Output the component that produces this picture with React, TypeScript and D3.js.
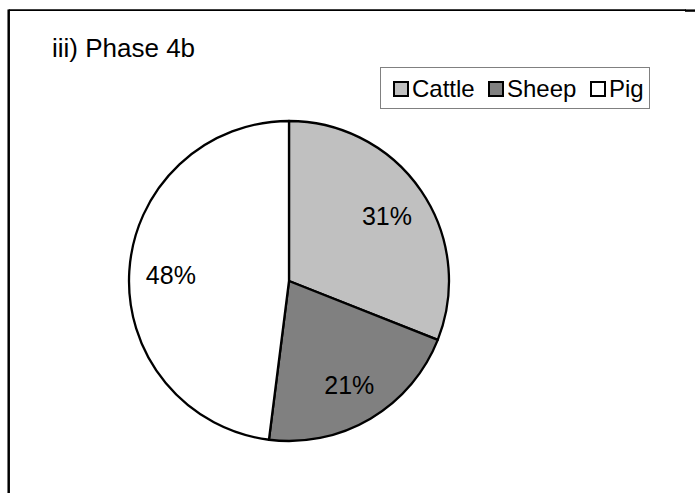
import * as d3 from "d3";
import { useRef, useEffect } from "react";

const categories = ["Cattle", "Sheep", "Pig"];
const shares = [31, 21, 48];
const labels = ["31%", "21%", "48%"];
const fills = ["#c0c0c0", "#808080", "#ffffff"];
const title = "iii) Phase 4b";

export default function App() {
  const ref = useRef<SVGSVGElement | null>(null);
  const width = 695;
  const height = 493;

  useEffect(() => {
    const svg = d3.select(ref.current);
    svg.selectAll("*").remove();
    const font = "Arial, 'Liberation Sans', sans-serif";

    // frame (only top and left edges visible)
    svg.append("line").attr("x1", 8.7).attr("x2", 686).attr("y1", 10.2).attr("y2", 10.2)
      .attr("stroke", "#000").attr("stroke-width", 1.7);
    svg.append("line").attr("x1", 685).attr("x2", 695).attr("y1", 10.6).attr("y2", 10.6)
      .attr("stroke", "#000").attr("stroke-width", 2.4);
    svg.append("line").attr("x1", 8.7).attr("x2", 8.7).attr("y1", 9.4).attr("y2", height)
      .attr("stroke", "#000").attr("stroke-width", 2.5);

    svg.append("text").attr("x", 52).attr("y", 56.5)
      .attr("font-family", font).attr("font-size", 26).attr("fill", "#000")
      .text(title);

    // pie
    const cx = 289, cy = 281, r = 160;
    const pie = d3.pie<number>().sort(null).value((d) => d);
    const arcs = pie(shares);
    const arc = d3.arc<d3.PieArcDatum<number>>().innerRadius(0).outerRadius(r);
    const labelArc = d3.arc<d3.PieArcDatum<number>>().innerRadius(r * 0.74).outerRadius(r * 0.74);
    const g = svg.append("g").attr("transform", `translate(${cx},${cy})`);
    g.selectAll("path").data(arcs).join("path")
      .attr("d", arc)
      .attr("fill", (_, i) => fills[i])
      .attr("stroke", "#000")
      .attr("stroke-width", 2.3)
      .attr("stroke-linejoin", "round");
    g.selectAll("text").data(arcs).join("text")
      .attr("transform", (d) => {
        const [x, y] = labelArc.centroid(d);
        return `translate(${x},${y + 2})`;
      })
      .attr("text-anchor", "middle")
      .attr("dy", "0.35em")
      .attr("font-family", font).attr("font-size", 25).attr("fill", "#000")
      .text((_, i) => labels[i]);

    // legend
    const lg = svg.append("g");
    lg.append("rect").attr("x", 380.5).attr("y", 67.5).attr("width", 269).attr("height", 41)
      .attr("fill", "#fff").attr("stroke", "#808080").attr("stroke-width", 1);
    const markerX = [394, 489, 591];
    const items = lg.selectAll("g.item").data(categories).join("g").attr("class", "item")
      .attr("transform", (_, i) => `translate(${markerX[i]},0)`);
    items.append("rect").attr("x", 0).attr("y", 82).attr("width", 14).attr("height", 14)
      .attr("fill", (_, i) => fills[i]).attr("stroke", "#000").attr("stroke-width", 2);
    items.append("text").attr("x", 18).attr("y", 97)
      .attr("font-family", font).attr("font-size", 24).attr("fill", "#000")
      .text((d) => d);
  }, []);

  return (
    <svg
      ref={ref}
      width={width}
      height={height}
      style={{ position: "absolute", left: 0, top: 0, background: "#fff" }}
    />
  );
}
